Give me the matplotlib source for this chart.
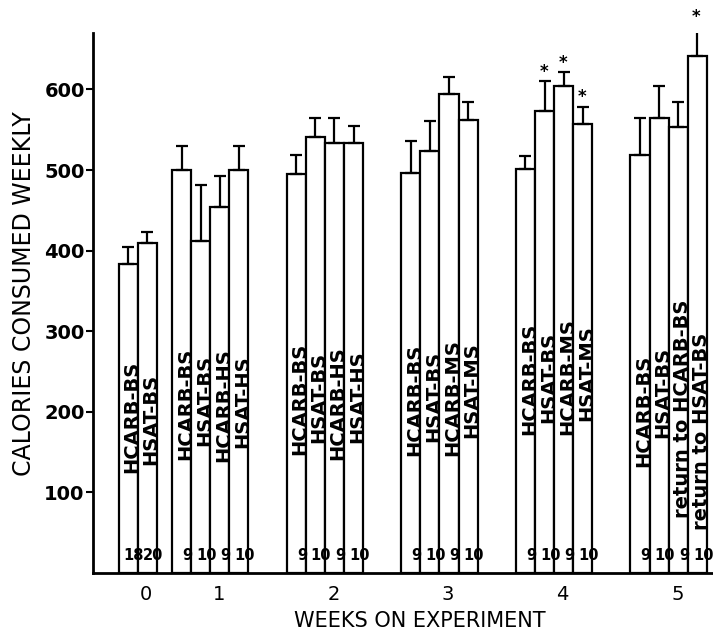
import matplotlib
matplotlib.use("Agg")
import matplotlib.pyplot as plt

# ---- data ----
weeks = ["0", "1", "2", "3", "4", "5"]
group_labels = [
    ["HCARB-BS", "HSAT-BS"],
    ["HCARB-BS", "HSAT-BS", "HCARB-HS", "HSAT-HS"],
    ["HCARB-BS", "HSAT-BS", "HCARB-HS", "HSAT-HS"],
    ["HCARB-BS", "HSAT-BS", "HCARB-MS", "HSAT-MS"],
    ["HCARB-BS", "HSAT-BS", "HCARB-MS", "HSAT-MS"],
    ["HCARB-BS", "HSAT-BS", "return to HCARB-BS", "return to HSAT-BS"],
]
means = [
    [383, 410],
    [500, 412, 454, 500],
    [495, 541, 533, 533],
    [496, 523, 594, 562],
    [501, 573, 604, 557],
    [519, 565, 553, 642],
]
errors = [
    [22, 13],
    [30, 69, 38, 30],
    [24, 23, 31, 21],
    [40, 38, 21, 23],
    [17, 37, 17, 21],
    [46, 39, 32, 36],
]
n_animals = [
    [18, 20],
    [9, 10, 9, 10],
    [9, 10, 9, 10],
    [9, 10, 9, 10],
    [9, 10, 9, 10],
    [9, 10, 9, 10],
]
significant = [
    [False, False],
    [False, False, False, False],
    [False, False, False, False],
    [False, False, False, False],
    [False, True, True, True],
    [False, False, False, True],
]
yticks = [100, 200, 300, 400, 500, 600]

# ---- layout (label heights inside bars, in y units) ----
label_base = [
    [124, 134],
    [140, 157, 138, 155],
    [147, 161, 140, 161],
    [145, 163, 145, 168],
    [171, 186, 171, 188],
    [132, 168, 68, 53],
]

W, H = 713, 635
fig = plt.figure(figsize=(W / 100, H / 100), dpi=100)
ax = fig.add_axes([93 / W, (H - 573) / H, (W - 93) / W, (573 - 33) / H])

group_start = [-2.8, 0, 6, 12, 18, 24]
lw = 1.6
tick_pos = []
for g in range(len(weeks)):
    nb = len(means[g])
    xs = [group_start[g] + k + 0.5 for k in range(nb)]
    tick_pos.append(group_start[g] + nb / 2 + 0.45)
    ax.bar(xs, means[g], width=1.0, color="white", edgecolor="black",
           linewidth=lw, zorder=2)
    ax.errorbar(xs, means[g], yerr=[[0] * nb, errors[g]], fmt="none",
                ecolor="black", elinewidth=lw, capsize=4, capthick=lw, zorder=3)
    for k in range(nb):
        ax.text(xs[k] + 0.2, label_base[g][k], group_labels[g][k],
                rotation=90, ha="center", va="bottom", fontsize=14,
                fontweight="bold", zorder=4)
        ax.text(xs[k] + 0.3, 22, str(n_animals[g][k]), ha="center",
                va="center", fontsize=10.5, fontweight="bold", zorder=4)
        if significant[g][k]:
            ax.text(xs[k] - 0.05, means[g][k] + errors[g][k] + 12, "*",
                    ha="center", va="center", fontsize=12, fontweight="bold",
                    clip_on=False, zorder=4)

ax.set_xlim(-4.14, 28.32)
ax.set_ylim(0, 670)
ax.set_yticks(yticks)
ax.set_yticklabels([str(v) for v in yticks], fontsize=14, fontweight="bold")
ax.set_xticks(tick_pos)
ax.set_xticklabels(weeks, fontsize=14)
ax.tick_params(axis="x", length=0, pad=9)
ax.tick_params(axis="y", length=5, width=1.5, pad=1)
for s in ["top", "right"]:
    ax.spines[s].set_visible(False)
for s in ["left", "bottom"]:
    ax.spines[s].set_linewidth(2)

fig.text(420 / W, 1 - 621 / H, "WEEKS ON EXPERIMENT", ha="center",
         va="center", fontsize=15)
fig.text(24 / W, 1 - 294 / H, "CALORIES CONSUMED WEEKLY", ha="center",
         va="center", rotation=90, fontsize=17)

fig.savefig("out.png", dpi=100)
